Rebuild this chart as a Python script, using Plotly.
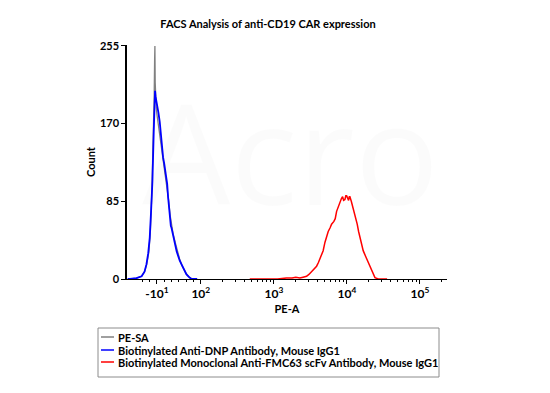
import math
import plotly.graph_objects as go

# Display coordinate: decades on a logicle-like PE-A scale
gray_x = [1.00, 1.03, 1.12, 1.19, 1.23, 1.26, 1.29, 1.31, 1.33, 1.345, 1.355, 1.362, 1.368, 1.372,
          1.376, 1.38, 1.39, 1.40, 1.42, 1.44, 1.46, 1.48, 1.50, 1.52, 1.54, 1.56, 1.58, 1.60,
          1.62, 1.65, 1.68, 1.71, 1.74, 1.77, 1.80, 1.83, 1.86, 1.90, 1.95]
gray_y = [0, 0, 1, 3, 8, 16, 30, 52, 95, 140, 175, 200, 240, 255,
          215, 200, 188, 180, 168, 158, 146, 136, 124, 112, 100, 86, 70, 58,
          50, 40, 30, 22, 15, 10, 6, 3, 1, 0, 0]

blue_x = [1.00, 1.03, 1.12, 1.19, 1.23, 1.256, 1.28, 1.301, 1.32, 1.338, 1.356, 1.366, 1.374,
          1.38, 1.39, 1.401, 1.42, 1.438, 1.46, 1.484, 1.50, 1.521, 1.54, 1.552, 1.575,
          1.59, 1.599, 1.61, 1.625, 1.644, 1.67, 1.712, 1.75, 1.78, 1.804, 1.84, 1.873, 1.95]
blue_y = [0, 0, 1, 3, 8, 16, 28, 45, 75, 107, 161, 190, 206,
          200, 196, 190, 182, 172, 152, 133, 126, 116, 104, 90, 68,
          58, 56, 52, 46, 38, 30, 20, 13, 8, 5, 2, 0, 0]

red_x = [2.67, 2.90, 3.05, 3.17, 3.25, 3.30, 3.356, 3.40, 3.448, 3.48, 3.516, 3.55, 3.585,
         3.61, 3.630, 3.655, 3.675, 3.699, 3.72, 3.744, 3.77, 3.790, 3.822, 3.84, 3.859,
         3.88, 3.904, 3.925, 3.941, 3.955, 3.973, 3.985, 3.996, 4.01, 4.023, 4.033, 4.041,
         4.06, 4.078, 4.095, 4.110, 4.141, 4.16, 4.178, 4.20, 4.223, 4.26, 4.292, 4.315,
         4.338, 4.36, 4.384, 4.429, 4.50, 4.55]
red_y = [0, 0, 0, 1, 1, 2, 1, 2, 3, 5, 8, 10, 14,
         18, 22, 27, 31, 40, 46, 52, 56, 60, 63, 66, 74,
         79, 85, 88, 90, 86, 87, 91, 91, 88, 86, 90, 90,
         85, 80, 74, 69, 60, 52, 45, 38, 31, 24, 18, 13,
         9, 5, 1.5, 0, 0, 0]

series_names = ["PE-SA",
                "Biotinylated Anti-DNP Antibody, Mouse IgG1",
                "Biotinylated Monoclonal Anti-FMC63 scFv Antibody, Mouse IgG1"]
series_colors = ["#808080", "#0000ff", "#ff0000"]

x_tick_vals = [1.40, 2, 3, 4, 5]
x_tick_text = ["-10<sup>1</sup>", "10<sup>2</sup>", "10<sup>3</sup>", "10<sup>4</sup>", "10<sup>5</sup>"]
y_tick_vals = [0, 85, 170, 255]

minor_vals = [1.2, 1.3, 1.5, 1.6, 1.7, 1.8, 1.9]
for n in (2, 3, 4):
    for k in range(2, 10):
        minor_vals.append(n + math.log10(k))
minor_vals.append(5 + math.log10(2))

FONT = "Lato"

fig = go.Figure()
fig.add_trace(go.Scatter(x=red_x, y=red_y, mode="lines",
                         line=dict(color=series_colors[2], width=1.5), name=series_names[2]))
fig.add_trace(go.Scatter(x=gray_x, y=gray_y, mode="lines",
                         line=dict(color=series_colors[0], width=1.3), name=series_names[0]))
fig.add_trace(go.Scatter(x=blue_x, y=blue_y, mode="lines",
                         line=dict(color=series_colors[1], width=1.8), name=series_names[1]))

# page has an 8px body margin: figure is offset by OFF
OFF = 8
W, H = 534, 377
L, T = 127 - OFF, 45 - OFF
R = W - (447 - OFF)
B = H - (279 - OFF)
pw, ph = W - L - R, H - T - B

def px(x):
    return (x - OFF - L) / pw

def py(y):
    return (H - B - (y - OFF)) / ph

fig.update_layout(
    width=W, height=H,
    margin=dict(l=L, r=R, t=T, b=B),
    paper_bgcolor="white", plot_bgcolor="white",
    showlegend=False,
    font=dict(family=FONT, color="black"),
    title=dict(text="<b>FACS Analysis of anti-CD19 CAR expression</b>",
               x=(268 - OFF) / W, xanchor="center", y=1 - (24 - OFF) / H, yanchor="middle",
               font=dict(size=11, family=FONT, color="black")),
    xaxis=dict(range=[0.99, 5.37], showgrid=False, zeroline=False,
               showline=True, linecolor="black", linewidth=1,
               ticks="outside", ticklen=4, tickcolor="black",
               tickmode="array", tickvals=x_tick_vals,
               ticktext=["<b>%s</b>" % t for t in x_tick_text],
               tickfont=dict(size=12, family=FONT),
               minor=dict(tickmode="array", tickvals=minor_vals, ticks="outside",
                          ticklen=2, tickcolor="black"),
               title=dict(text="<b>PE-A</b>", font=dict(size=11), standoff=4)),
    yaxis=dict(range=[0, 256], showgrid=False, zeroline=False,
               showline=True, linecolor="black", linewidth=1.5,
               ticks="outside", ticklen=4, tickcolor="black",
               tickmode="array", tickvals=y_tick_vals,
               ticktext=["<b>%d</b>" % v for v in y_tick_vals],
               tickfont=dict(size=11),
               title=dict(text="<b>Count</b>", font=dict(size=11), standoff=2)),
)

# faint watermark
fig.add_annotation(text="Acro", x=px(290), y=py(150), xref="paper", yref="paper",
                   showarrow=False, font=dict(size=140, color="rgba(0,0,0,0.014)", family="Open Sans"))
fig.add_annotation(text="B I O S Y S T E M S", x=px(300), y=py(92), xref="paper", yref="paper",
                   showarrow=False, font=dict(size=14, color="rgba(0,0,0,0.022)", family="Open Sans"))

# manual legend
fig.add_shape(type="rect", xref="paper", yref="paper",
              x0=px(98), x1=px(439), y0=py(377), y1=py(328),
              line=dict(color="#8c8c8c", width=1), fillcolor="white")
legend_rows = [337, 350, 362]
for name, color, ry in zip(series_names, series_colors, legend_rows):
    fig.add_shape(type="line", xref="paper", yref="paper",
                  x0=px(101), x1=px(114), y0=py(ry), y1=py(ry),
                  line=dict(color=color, width=1.5))
    fig.add_annotation(text="<b>%s</b>" % name, xref="paper", yref="paper",
                       x=px(116), y=py(ry), xanchor="left", yanchor="middle",
                       showarrow=False, font=dict(size=11, family=FONT, color="black"))

fig.write_html("out.html")
